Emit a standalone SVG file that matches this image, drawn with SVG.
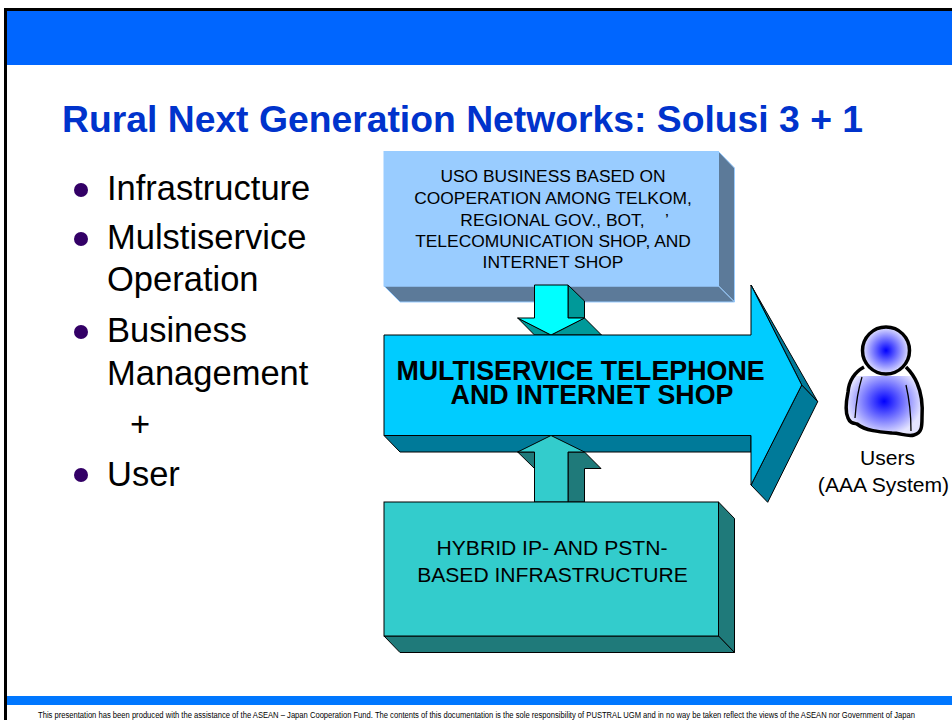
<svg xmlns="http://www.w3.org/2000/svg" width="952" height="720" viewBox="0 0 952 720">
<style>
text{font-family:"Liberation Sans",Arial,sans-serif;fill:#000}
.bl{font-size:34.500px}
.sm{font-size:17.400px;text-anchor:middle}
.md{font-size:21.100px;text-anchor:middle}
.big{font-size:26.800px;font-weight:bold;text-anchor:middle}
.k{stroke:#000;stroke-width:1;stroke-linejoin:miter}
.t{stroke:#99ccff;stroke-width:1}
</style>
<defs>
<radialGradient id="g"><stop offset="0" stop-color="#0000ff"/><stop offset="1" stop-color="#e4e4ff"/></radialGradient>
<clipPath id="bodyclip"><rect x="840" y="376" width="90" height="65"/></clipPath>
</defs>
<rect width="952" height="720" fill="#fff"/>
<g id="frame">
<rect x="4" y="8" width="948" height="3" fill="#000"/>
<rect x="4" y="8" width="3" height="712" fill="#000"/>
<rect x="7" y="11" width="945" height="54" fill="#0066ff"/>
<rect x="7" y="696" width="945" height="9" fill="#0077ff"/>
</g>
<text x="62" y="132" font-size="37.300" font-weight="bold" style="fill:#0033cc">Rural Next Generation Networks: Solusi 3 + 1</text>
<g id="bullets">
<circle cx="81" cy="190" r="7" fill="#330066"/>
<text class="bl" x="107" y="200">Infrastructure</text>
<circle cx="81" cy="239" r="7" fill="#330066"/>
<text class="bl" x="107" y="249">Mulstiservice</text>
<text class="bl" x="107" y="291">Operation</text>
<circle cx="81" cy="332" r="7" fill="#330066"/>
<text class="bl" x="107" y="342">Business</text>
<text class="bl" x="107" y="385">Management</text>
<text class="bl" x="130" y="436">+</text>
<circle cx="81" cy="475" r="7" fill="#330066"/>
<text class="bl" x="107" y="486">User</text>
</g>
<g id="node-uso">
<polygon class="t" points="718.500,151.500 734.500,168 734.500,302 718.500,286" fill="#5c7a99"/>
<polygon class="t" points="384,286 718.500,286 734.500,302 400,302" fill="#5c7a99"/>
<rect class="t" x="384" y="151.500" width="334.500" height="134.500" fill="#99ccff"/>
<text class="sm" x="553" y="182">USO BUSINESS BASED ON</text>
<text class="sm" x="553" y="204">COOPERATION AMONG TELKOM,</text>
<text class="sm" x="553" y="225.500"><tspan x="552.500">REGIONAL GOV., BOT,</tspan><tspan x="667">’</tspan></text>
<text class="sm" x="553" y="247">TELECOMUNICATION SHOP, AND</text>
<text class="sm" x="553" y="268">INTERNET SHOP</text>
</g>
<g id="connector-down">
<polygon class="k" points="568,285 584.500,301 584.500,318 568,318" fill="#009999"/>
<polygon class="k" points="517.700,318 551,335 584.500,318 601.500,335 534.500,335" fill="#009999"/>
<polygon class="k" points="534.500,285 568,285 568,318 584.500,318 551,335 517.700,318 534.500,318" fill="#00ffff"/>
</g>
<g id="node-multiservice">
<polygon class="k" points="751,285 817.700,401.700 801.700,385" fill="#007a99"/>
<polygon class="k" points="801.700,385 817.700,401.700 767.700,502.300 751,485" fill="#007a99"/>
<polygon class="k" points="384,435.500 751,435.500 751,452 400,452" fill="#007a99"/>
<polygon class="k" points="384,335 751,335 751,285 801.700,385 751,485 751,435.500 384,435.500" fill="#00ccff"/>
<text class="big" x="580.500" y="380">MULTISERVICE TELEPHONE</text>
<text class="big" x="592" y="404">AND INTERNET SHOP</text>
</g>
<g id="connector-up">
<polygon class="k" points="517.700,452 534.500,468.500 534.500,452" fill="#1f7a7a"/>
<polygon class="k" points="568,452 584.500,452 601,468.500 584.500,468.500 584.500,502 568,502" fill="#1f7a7a"/>
<polygon class="k" points="534.500,502 534.500,452 517.700,452 551,435.500 584.500,452 568,452 568,502" fill="#33cccc"/>
</g>
<g id="node-infrastructure">
<polygon class="k" points="718.500,502 734.500,518.500 734.500,652.500 718.500,636" fill="#1f7a7a"/>
<polygon class="k" points="384,636 718.500,636 734.500,652.500 400,652.500" fill="#1f7a7a"/>
<rect class="k" x="384" y="502" width="334.500" height="134" fill="#33cccc"/>
<text class="md" x="552" y="555">HYBRID IP- AND PSTN-</text>
<text class="md" x="552.500" y="582">BASED INFRASTRUCTURE</text>
</g>
<g id="node-users">
<path d="M864,367 C855,372 849,381 848,392 C846,402 845,412 848,418 C850,423 853,423 857,424 C866,431 880,432 892,433 C900,433 908,437 914,435 C922,433 922,426 922,418 C923,404 921,392 917,383 C914,376 911,372 906,367 C896,376 876,376 864,367 Z" fill="url(#g)" clip-path="url(#bodyclip)"/>
<path d="M864,367 C855,372 849,381 848,392 C846,402 845,412 848,418 C850,423 853,423 857,424 C866,431 880,432 892,433 C900,433 908,437 914,435 C922,433 922,426 922,418 C923,404 921,392 917,383 C914,376 911,372 906,367" fill="none" stroke="#000" stroke-width="3.500"/>
<path d="M862,377 C858,390 856,404 855,418 M906,385 C909,398 911,414 911,431" fill="none" stroke="#000" stroke-width="1.300"/>
<circle cx="886" cy="350.500" r="23.500" fill="url(#g)" stroke="#000" stroke-width="3.500"/>
<text class="md" x="887.500" y="465">Users</text>
<text class="md" x="883.500" y="491.500">(AAA System)</text>
</g>
<text x="38" y="717.500" font-size="9.200" textLength="877" lengthAdjust="spacingAndGlyphs">This presentation has been produced with the assistance of the ASEAN – Japan Cooperation Fund. The contents of this documentation is the sole responsibility of PUSTRAL UGM and in no way be taken reflect the views of the ASEAN nor Government of Japan</text>
</svg>
